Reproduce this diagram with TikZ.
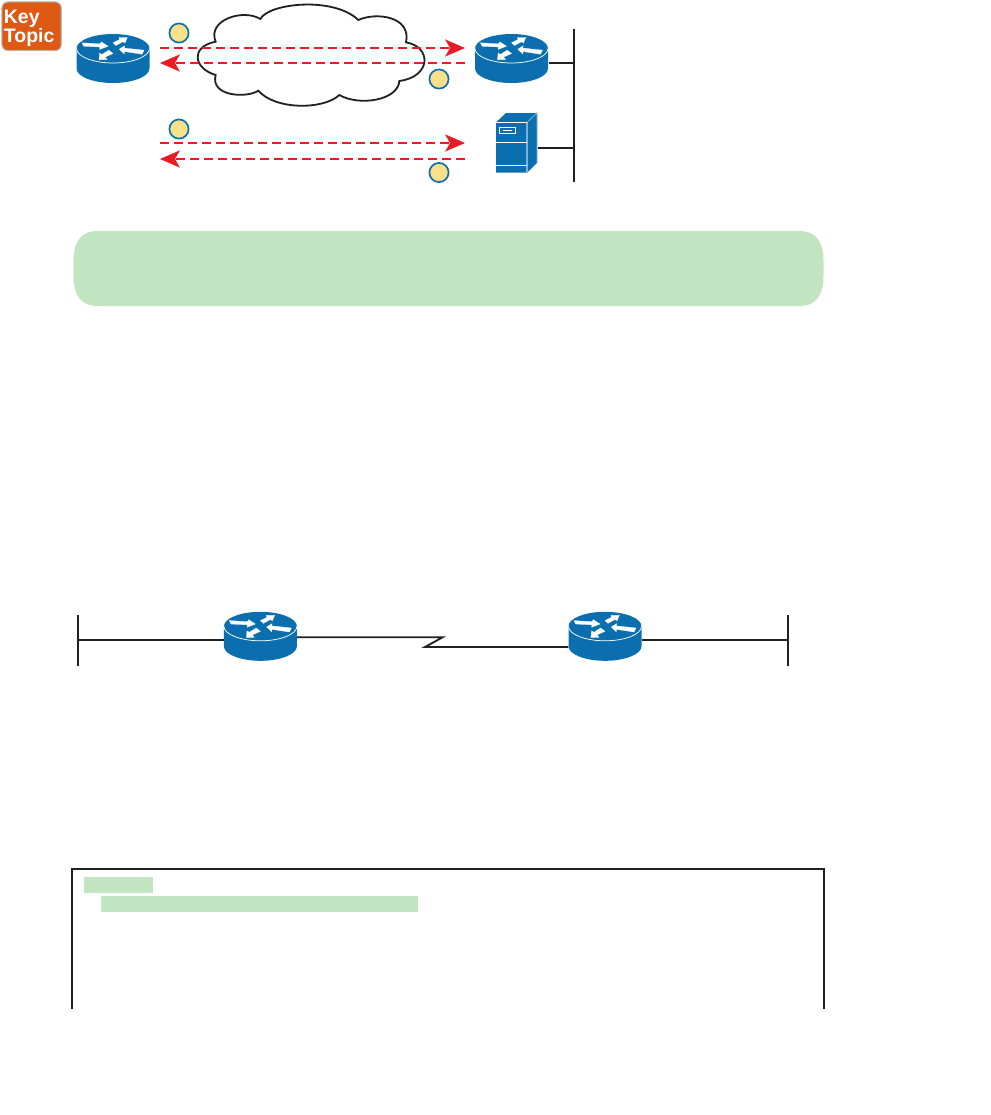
\documentclass[tikz,border=0pt]{standalone}
\usepackage{fontspec}
\setmainfont{Liberation Sans}
\usetikzlibrary{arrows.meta}
\definecolor{rblue}{HTML}{0B6FAF}
\definecolor{rlight}{HTML}{7DB2D8}
\definecolor{ink}{HTML}{231F20}
\definecolor{redline}{HTML}{E81C24}
\definecolor{hl}{HTML}{C1E4C1}
\definecolor{ylw}{HTML}{FBE08A}
\definecolor{orng}{HTML}{DE5A14}
\tikzset{
  wire/.style={draw=ink,line width=1.65pt},
  thinwire/.style={draw=ink,line width=1.4pt},
  flow/.style={draw=redline,line width=1.2pt,dash pattern=on 6.8pt off 3.7pt,
    -{Stealth[length=15pt,width=13pt,inset=3.75pt,fill=redline,line width=0pt]}},
  badge/.style={circle,draw=rblue,fill=ylw,line width=1.25pt,minimum size=14.4pt,inner sep=0pt},
  hlbar/.style={fill=hl},
  keybox/.style={draw=black!28,line width=.8pt,fill=orng,rounded corners=4.5pt,anchor=north west,
    minimum width=44.5pt,minimum height=36.5pt,text=white,font=\fontsize{14.6}{13.5}\selectfont\bfseries,
    align=left,inner sep=0pt,text width=41.5pt},
  rarrow/.style={fill=white,draw=white,line width=.2pt},
  pics/ciscorouter/.style={code={
    \fill[rblue] (-36.5,0) -- (-36.5,20) .. controls (-36.5,28) and (-20,34.5) .. (0,34.5)
       .. controls (20,34.5) and (36.5,28) .. (36.5,20) -- (36.5,0) -- cycle;
    \fill[rblue] (-36.5,0) .. controls (-36.5,-8) and (-20,-14.5) .. (0,-14.5)
       .. controls (20,-14.5) and (36.5,-8) .. (36.5,0)
       .. controls (36.5,8) and (20,14.5) .. (0,14.5)
       .. controls (-20,14.5) and (-36.5,8) .. (-36.5,0) -- cycle;
    \draw[white,line width=.55pt] (-36.5,0) .. controls (-36.5,8) and (-20,14.5) .. (0,14.5)
       .. controls (20,14.5) and (36.5,8) .. (36.5,0);
    \filldraw[rarrow] (-31,-5.7) -- (-13,-4.6) -- (-11.7,-6.6) -- (-5,-2.3) -- (-13.3,.9) -- (-13.2,-1.5) -- (-29.3,-2.3) -- cycle;
    \filldraw[rarrow] (0,-5.7) -- (6.6,-9) -- (6,-11) -- (14.3,-11) -- (12,-5.6) -- (9.8,-6.8) -- (3,-3) -- cycle;
    \filldraw[rarrow] (6.3,.7) -- (11.6,-2.6) -- (11.4,-.4) -- (31,1.7) -- (29,5.7) -- (11.5,3) -- (11.2,5.4) -- cycle;
    \filldraw[rarrow] (-14,11.3) -- (-13.4,4.6) -- (-11,6) -- (-4.3,1.7) -- (0,5) -- (-8,8.6) -- (-6,11) -- cycle;
  }},
}
\begin{document}
\begin{tikzpicture}[x=.75pt,y=-.75pt]
\useasboundingbox[fill=white] (0,0) rectangle (990,1115);

% key topic
\node[keybox] (key) at (1.4,1.4) {\rule{0pt}{13pt}Key\\Topic};

% cloud
\begin{scope}[shift={(190,0)},x=.25pt,y=-.25pt]
\draw[ink,line width=1.35pt,fill=white] (211,57) .. controls (235,10) and (430,-12) .. (505,60)
  .. controls (560,35) and (665,50) .. (648,127)
  .. controls (725,140) and (725,230) .. (628,243)
  .. controls (625,300) and (510,320) .. (448,285)
  .. controls (400,330) and (255,330) .. (205,272)
  .. controls (170,295) and (60,290) .. (77,225)
  .. controls (10,205) and (0,140) .. (77,125)
  .. controls (50,60) and (160,25) .. (211,57) -- cycle;
\end{scope}

% routers
\pic at (113,48.5) {ciscorouter};
\pic at (511.5,48.5) {ciscorouter};
\pic at (260.4,626.3) {ciscorouter};
\pic at (605,626.3) {ciscorouter};

% server
\fill[rblue] (496,122.3) -- (506,113) -- (537,113) -- (537,163) -- (527,172.7) -- (496,172.7) -- cycle;
\draw[rlight,line width=.9pt] (527,122.3) -- (527,172.7);
\draw[rlight,line width=.6pt] (527,122.3) -- (537,113) -- (537,163);
\draw[white,line width=.7pt] (496,122.3) -- (526.5,122.3);
\draw[white,line width=.7pt] (496,142.3) -- (526.5,142.3);
\draw[white,line width=.7pt] (496,165.3) -- (526.5,165.3);
\draw[white,line width=.7pt] (499.3,127.3) rectangle (515.7,133.3);
\draw[white,line width=.7pt] (503.3,130.3) -- (512,130.3);

% bus and links at the top
\coordinate (busTop) at (574,29);
\coordinate (busBottom) at (574,182);
\coordinate (routerPort) at (549,63);
\coordinate (routerTap) at (574,63);
\coordinate (serverPort) at (538,148);
\coordinate (serverTap) at (574,148);
\draw[wire] (busTop) -- (busBottom);
\draw[wire] (routerPort) -- (routerTap);
\draw[wire] (serverPort) -- (serverTap);

% red flows
\coordinate (a1) at (160,48); \coordinate (b1) at (465,48);
\coordinate (a2) at (465,63); \coordinate (b2) at (160,63);
\coordinate (a3) at (160,143); \coordinate (b3) at (465,143);
\coordinate (a4) at (465,159); \coordinate (b4) at (160,159);
\draw[flow] (a1) -- (b1);
\draw[flow] (a2) -- (b2);
\draw[flow] (a3) -- (b3);
\draw[flow] (a4) -- (b4);

% badges
\node[badge] (n1) at (179,33) {};
\node[badge] (n2) at (439,79) {};
\node[badge] (n3) at (179,129) {};
\node[badge] (n4) at (439,172.5) {};

% green panel
\fill[hl] (73.5,261) .. controls (73.5,241) and (82,231) .. (97,231) -- (800,231)
  .. controls (815,231) and (823.5,241) .. (823.5,261) -- (823.5,276)
  .. controls (823.5,296) and (815,306) .. (800,306) -- (97,306)
  .. controls (82,306) and (73.5,296) .. (73.5,276) -- cycle;

% lower network
\coordinate (lbT) at (78,615); \coordinate (lbB) at (78,666);
\coordinate (rbT) at (788,615); \coordinate (rbB) at (788,666);
\coordinate (lbTap) at (78,640); \coordinate (r3W) at (224,640);
\coordinate (rbTap) at (788,640); \coordinate (r4E) at (642,640);
\coordinate (r3E) at (297,637.3); \coordinate (z1) at (442.5,637.3);
\coordinate (z2) at (425,647); \coordinate (r4W) at (568.3,647);
\draw[wire] (lbT) -- (lbB);
\draw[wire] (rbT) -- (rbB);
\draw[wire] (lbTap) -- (r3W);
\draw[wire] (rbTap) -- (r4E);
\draw[thinwire,line join=miter] (r3E) -- (z1) -- (z2) -- (r4W);

% listing frame
\fill[hlbar] (84,877) rectangle (153,893);
\fill[hlbar] (101,896) rectangle (418,912);
\coordinate (fL) at (72,1008.5); \coordinate (fTL) at (72,869);
\coordinate (fTR) at (823.7,869); \coordinate (fR) at (823.7,1008.5);
\draw[wire,line join=miter] (fL) -- (fTL) -- (fTR) -- (fR);
\end{tikzpicture}
\end{document}
